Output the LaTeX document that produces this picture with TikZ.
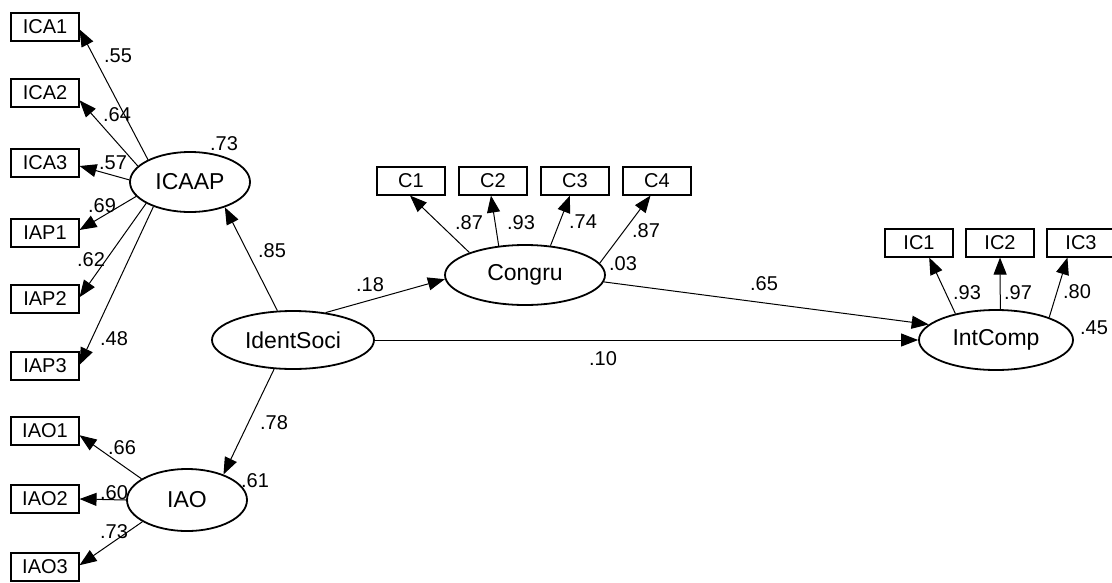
\documentclass[tikz,border=0pt]{standalone}
\usepackage{fontspec}
\setmainfont{Liberation Sans}
\usetikzlibrary{arrows.meta,shapes.geometric}
\begin{document}
\begin{tikzpicture}[x=1pt,y=-1pt,
 obs/.style={draw,line width=1.1pt,minimum width=68pt,minimum height=28pt,inner sep=0pt,font=\fontsize{20}{24}\selectfont},
 lat/.style={draw,ellipse,line width=1.8pt,inner sep=0pt,font=\fontsize{23}{27}\selectfont},
 arr/.style={line width=1pt,-{Triangle[length=17pt,width=13pt]}},
 lbl/.style={inner sep=0pt,font=\fontsize{20}{24}\selectfont}]
\useasboundingbox[fill=white] (0,0) rectangle (1112,582);
% observed boxes, left
\node[obs] (ICA1) at (45,27) {ICA1};
\node[obs] (ICA2) at (45,93) {ICA2};
\node[obs] (ICA3) at (45,163) {ICA3};
\node[obs] (IAP1) at (45,233) {IAP1};
\node[obs] (IAP2) at (45,299) {IAP2};
\node[obs] (IAP3) at (45,366) {IAP3};
\node[obs] (IAO1) at (45,431) {IAO1};
\node[obs] (IAO2) at (45,499) {IAO2};
\node[obs] (IAO3) at (45,567) {IAO3};
% C boxes
\node[obs] (C1) at (411,181) {C1};
\node[obs] (C2) at (493,181) {C2};
\node[obs] (C3) at (575,181) {C3};
\node[obs] (C4) at (657,181) {C4};
% IC boxes
\node[obs] (IC1) at (919,243) {IC1};
\node[obs] (IC2) at (1000,243) {IC2};
\node[obs] (IC3) at (1081,243) {IC3};
% latent
\node[lat,minimum width=120pt,minimum height=60pt] (ICAAP) at (190,182) {ICAAP};
\node[lat,minimum width=120pt,minimum height=62pt] (IAO) at (187,500) {IAO};
\node[lat,minimum width=162pt,minimum height=58pt] (IS) at (293,340) {IdentSoci};
\node[lat,minimum width=160pt,minimum height=60pt] (CG) at (525,275) {Congru};
\node[lat,minimum width=154pt,minimum height=60pt] (IC) at (996,340) {IntComp};
% ICAAP loadings
\draw[arr] (ICAAP.152.9) -- (ICA1.356);
\draw[arr] (ICAAP.163.6) -- (ICA2.348);
\draw[arr] (ICAAP.178) -- (ICA3.355);
\draw[arr] (ICAAP.195.9) -- (IAP1.5);
\draw[arr] (ICAAP.206.6) -- (IAP2.3.5);
\draw[arr] (ICAAP.214.4) -- (IAP3.2);
% IAO loadings
\draw[arr] (IAO.155.9) -- (IAO1.353);
\draw[arr] (IAO.180) -- (IAO2.east);
\draw[arr] (IAO.206) -- (IAO3.3);
% structural
\draw[arr] (IS.118.7) -- (ICAAP.324.3);
\draw[arr] (IS.237.2) -- (IAO.35.3);
\draw[arr] (IS.40) -- (CG.183.5);
\draw[arr] (IS.east) -- (IC.west);
\draw[arr] (CG.355) -- (IC.167.9);
% Congru loadings
\draw[arr] (CG.158.2) -- (C1.266);
\draw[arr] (CG.132.9) -- (C2.262.4);
\draw[arr] (CG.49.4) -- (C3.251.6);
\draw[arr] (CG.9.8) -- (C4.246);
% IntComp loadings
\draw[arr] (IC.147.6) -- (IC1.305.5);
\draw[arr] (IC.82.4) -- (IC2.270);
\draw[arr] (IC.23.2) -- (IC3.227);
% labels
\node[lbl] (l1) at (118,56) {.55};
\node[lbl] (l2) at (117,115) {.64};
\node[lbl] (l3) at (224,144) {.73};
\node[lbl] (l4) at (113,163) {.57};
\node[lbl] (l5) at (102,206) {.69};
\node[lbl] (l6) at (91,260) {.62};
\node[lbl] (l7) at (114,339) {.48};
\node[lbl] (l8) at (272,251) {.85};
\node[lbl] (l9) at (274,423) {.78};
\node[lbl] (l10) at (122,448) {.66};
\node[lbl] (l11) at (114,493) {.60};
\node[lbl] (l12) at (255,481) {.61};
\node[lbl] (l13) at (114,532) {.73};
\node[lbl] (l14) at (370,285) {.18};
\node[lbl] (l15) at (764,284) {.65};
\node[lbl] (l16) at (603,359) {.10};
\node[lbl] (l17) at (469,223) {.87};
\node[lbl] (l18) at (521,223) {.93};
\node[lbl] (l19) at (583,222) {.74};
\node[lbl] (l20) at (646,231) {.87};
\node[lbl] (l21) at (623,264) {.03};
\node[lbl] (l22) at (967,293) {.93};
\node[lbl] (l23) at (1018,293) {.97};
\node[lbl] (l24) at (1077,292) {.80};
\node[lbl] (l25) at (1094,328) {.45};
\end{tikzpicture}
\end{document}
